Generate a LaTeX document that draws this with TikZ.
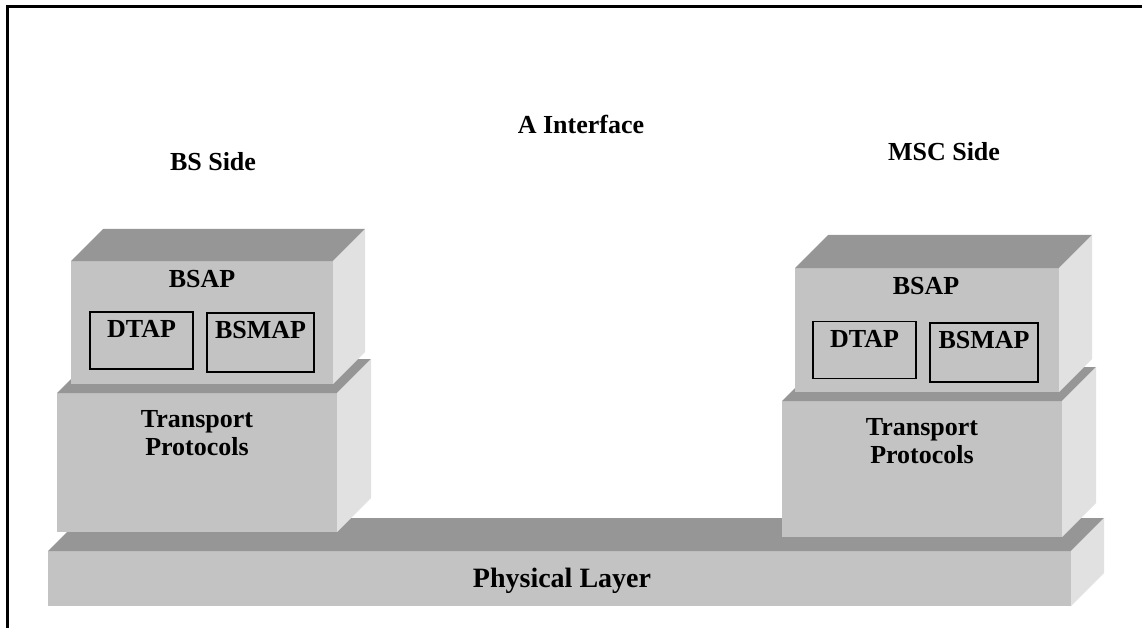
\documentclass[tikz,border=0pt]{standalone}
\usepackage{fontspec}
\setmainfont{Liberation Serif}
\definecolor{frontgray}{RGB}{195,195,195}
\definecolor{topgray}{RGB}{150,150,150}
\definecolor{sidegray}{RGB}{225,225,225}
\begin{document}
\begin{tikzpicture}[x=1pt,y=-1pt,
        lbl/.style={font=\fontsize{26}{28}\selectfont\bfseries, inner sep=0pt, anchor=base},
        subbox/.style={draw, line width=1.4pt, inner sep=0pt, minimum width=103pt, minimum height=57pt}]
        \useasboundingbox (0,0) rectangle (1142,628);
        \draw[line width=3pt] (7,628) -- (7,7) -- (1142,7);
        % blocks: physical layer, then the two stacks
        \foreach \xa/\ya/\xb/\yb/\d in {48/551/1071/606/33, 57/393/337/532/34, 71/261/333/384/32,
                782/401/1062/537/34, 795/268/1059/392/33} {
            \fill[frontgray] (\xa,\ya) rectangle (\xb,\yb);
            \fill[topgray] (\xa,\ya) -- ++(\d,-\d) -- (\xb+\d,\ya-\d) -- (\xb,\ya) -- cycle;
            \fill[sidegray] (\xb,\ya) -- ++(\d,-\d) -- (\xb+\d,\yb-\d) -- (\xb,\yb) -- cycle;
        }
        \node[subbox] (ldtapbox) at (141.5,340.5) {};
        \node[subbox, minimum width=107pt, minimum height=59pt] (lbsmapbox) at (260.5,342.5) {};
        \node[subbox] (rdtapbox) at (864.5,350) {};
        \node[subbox, minimum width=108pt, minimum height=59pt] (rbsmapbox) at (984,352.5) {};
        \node[lbl] (bsside) at (213,171) {BS Side};
        \node[lbl] (aiface) at (581,134) {A Interface};
        \node[lbl] (mscside) at (944,161) {MSC Side};
        \node[lbl] (lbsap) at (202,287) {BSAP};
        \node[lbl] (rbsap) at (926,294) {BSAP};
        \node[lbl] (ldtap) at (ldtapbox.center |- 0,337) {DTAP};
        \node[lbl] (lbsmap) at (lbsmapbox.center |- 0,338) {BSMAP};
        \node[lbl] (rdtap) at (rdtapbox.center |- 0,347) {DTAP};
        \node[lbl] (rbsmap) at (rbsmapbox.center |- 0,348) {BSMAP};
        \node[lbl, align=center] (ltrans) at (197,455) {Transport\\Protocols};
        \node[lbl, align=center] (rtrans) at (922,463) {Transport\\Protocols};
        \node[lbl, font=\fontsize{28}{30}\selectfont\bfseries] (phys) at (562,587) {Physical Layer};
\end{tikzpicture}
\end{document}
